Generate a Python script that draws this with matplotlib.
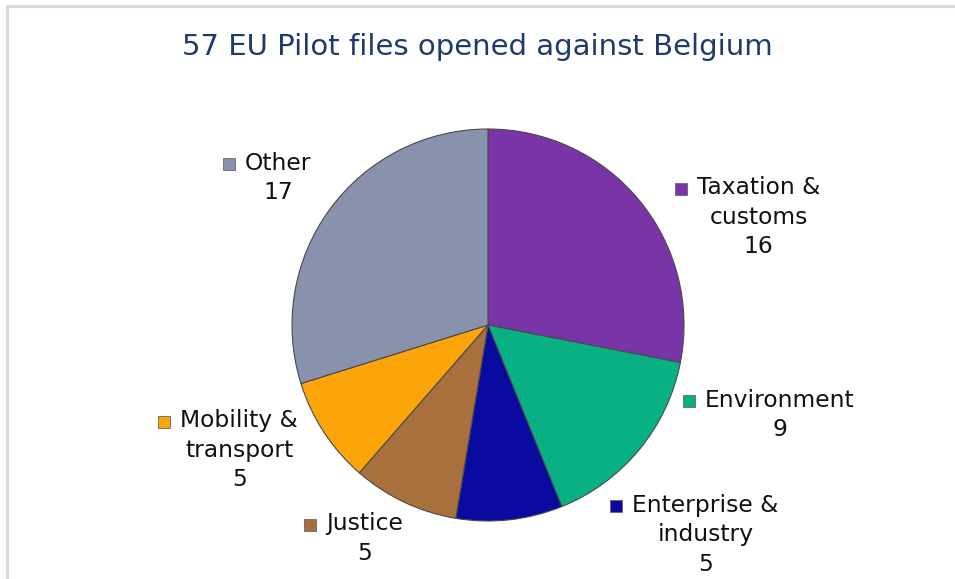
import matplotlib
matplotlib.use("Agg")
import matplotlib.pyplot as plt
import numpy as np
from matplotlib.lines import Line2D

# ---- data ----
categories = ["Taxation &\ncustoms", "Environment", "Enterprise &\nindustry",
              "Justice", "Mobility &\ntransport", "Other"]
values = [16, 9, 5, 5, 5, 17]
colors = ["#7934A8", "#08B084", "#0A0AA0", "#A8703C", "#FCA50A", "#8892AD"]
title = "57 EU Pilot files opened against Belgium"

# label block centres (pie-radius units, pie centre at 0,0)
label_pos = [(1.38, 0.55), (1.49, -0.46), (1.11, -1.07),
             (-0.63, -1.09), (-1.27, -0.64), (-1.07, 0.75)]

W, H = 955, 579
fig = plt.figure(figsize=(W / 100, H / 100), dpi=100)
fig.patch.set_facecolor("white")

# pie axes: centre (488,325) px, radius 196 px
cx, cy, r = 488, 325, 196
ax = fig.add_axes([(cx - r) / W, 1 - (cy + r) / H, 2 * r / W, 2 * r / H])

# outer frame (top and left visible)
fig.add_artist(Line2D([7 / W, 7 / W], [0, 1 - 6 / H], transform=fig.transFigure,
                      color="#d9d9d9", lw=2.2))
fig.add_artist(Line2D([7 / W, 1], [1 - 6 / H, 1 - 6 / H], transform=fig.transFigure,
                      color="#d9d9d9", lw=2.2))

wedges, _ = ax.pie(values, colors=colors, startangle=90, counterclock=False,
                   radius=1.0, center=(0, 0), frame=True,
                   wedgeprops=dict(edgecolor="#4a4a4a", linewidth=0.8))
ax.set_xlim(-1.0, 1.0)
ax.set_ylim(-1.0, 1.0)
ax.set_aspect("equal")
ax.axis("off")

fig.text(0.5, 1 - 47 / H, title, ha="center", va="center",
         fontsize=21, color="#1F3A6E", family="DejaVu Sans")

fig.canvas.draw()
renderer = fig.canvas.get_renderer()
fs = 16.8
for lab, v, (lx, ly), c in zip(categories, values, label_pos, colors):
    txt = f"{lab}\n{v}"
    t = ax.text(lx, ly, txt, ha="center", va="center", fontsize=fs,
                color="#111111", linespacing=1.36, clip_on=False)
    first = lab.split("\n")[0]
    tmp = ax.text(lx, ly, first, ha="center", va="center", fontsize=fs)
    bb_first = tmp.get_window_extent(renderer)
    tmp.remove()
    bb = t.get_window_extent(renderer)
    nlines = txt.count("\n") + 1
    line_h = bb.height / nlines
    mx = bb.x0 + (bb.width - bb_first.width) / 2 - 16
    my = bb.y1 - line_h / 2 + 1
    inv = ax.transData.inverted()
    dx, dy = inv.transform((mx, my))
    ax.plot([dx], [dy], marker="s", markersize=9, color=c,
            markeredgecolor="#666666", markeredgewidth=0.6, clip_on=False)

fig.savefig("out.png", dpi=100)
